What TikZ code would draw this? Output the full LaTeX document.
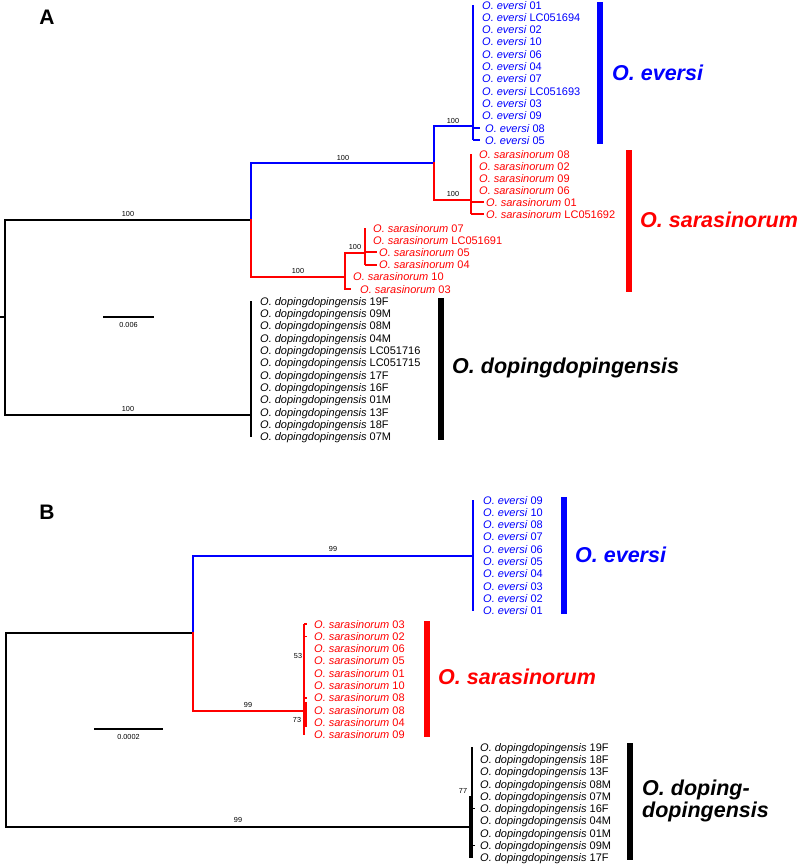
\documentclass[tikz,border=0pt]{standalone}
\usepackage{fontspec}
\setmainfont{Liberation Sans}
\newcommand*\taxon[2]{\textit{#1} #2}

\begin{document}
\begin{tikzpicture}[x=1pt,y=-1pt,
	br/.style={line width=2.5pt,line cap=rect},
	tl/.style={line width=2pt},
	tip/.style={anchor=base west,inner sep=0pt,font=\fontsize{11}{12}\selectfont},
	sup/.style={inner sep=0pt,font=\fontsize{7.3}{8}\selectfont},
	bar/.style={line width=6pt},
	clade/.style={anchor=west,inner sep=0pt,align=left,font=\fontsize{21.5}{22}\selectfont\bfseries\itshape},
	panel/.style={inner sep=0pt,font=\fontsize{21}{22}\selectfont\bfseries}]
	\useasboundingbox (0,0) rectangle (799,865);

	% panel A
	\node[panel] (labA) at (47,17) {A};
	\coordinate (stA) at (0,317);
	\coordinate (rA) at (5,317);
	\coordinate (inA) at (251,220);
	\coordinate (dpA) at (251,415);
	\coordinate (esA) at (434,163);
	\coordinate (evA) at (473,126);
	\coordinate (s1A) at (471,200);
	\coordinate (s2A) at (345,277);
	\coordinate (s3A) at (365,253);

	\foreach \n/\d [count=\i] in {01/0,LC051694/0,02/0,10/0,06/0,04/0,07/0,LC051693/0,03/0,09/0,08/3,05/3}{
		\coordinate (eAt\i) at (473,{5+12.3*(\i-1)});
		\node[tip,blue] (eA\i) at ({482+\d},{9+12.3*(\i-1)}) {\taxon{O. eversi}{\n}};
	}
	\foreach \n/\d [count=\i] in {08/0,02/0,09/0,06/0,01/7,LC051692/7}{
		\coordinate (sAt\i) at (471,{154+12*(\i-1)});
		\node[tip,red] (sA\i) at ({479+\d},{158+12*(\i-1)}) {\taxon{O. sarasinorum}{\n}};
	}
	\foreach \n/\cx/\lx [count=\i] in {07/365/373,LC051691/365/373,05/365/379,04/365/379,10/345/353,03/345/360}{
		\coordinate (tAt\i) at (\cx,{228+12.2*(\i-1)});
		\node[tip,red] (tA\i) at (\lx,{232+12.2*(\i-1)}) {\taxon{O. sarasinorum}{\n}};
	}
	\foreach \n [count=\i] in {19F,09M,08M,04M,LC051716,LC051715,17F,16F,01M,13F,18F,07M}{
		\coordinate (dAt\i) at (251,{301+12.36*(\i-1)});
		\node[tip] (dA\i) at (260,{305+12.36*(\i-1)}) {\taxon{O. dopingdopingensis}{\n}};
	}

	\draw[br] (stA) -- (rA);
	\draw[br] (inA) -| (rA) |- (dpA);
	\draw[br,blue] (inA) |- (esA);
	\draw[br,red] (inA) |- (s2A);
	\draw[br,blue] (esA) |- (evA);
	\draw[br,red] (esA) |- (s1A);
	\draw[br,red] (s3A) -| (tAt6) -- ++(5,0);
	\draw[tl,blue] (eAt1) -- (eAt12);
	\draw[tl,blue] (eAt11) -- ++(7,0);
	\draw[tl,blue] (eAt12) -- ++(7,0);
	\draw[tl,red] (sAt1) -- (sAt6);
	\draw[tl,red] (sAt5) -- ++(13,0);
	\draw[tl,red] (sAt6) -- ++(13,0);
	\draw[tl,red] (tAt1) -- (tAt4);
	\draw[tl,red] (tAt3) -- ++(12,0);
	\draw[tl,red] (tAt4) -- ++(12,0);
	\draw[tl] (dAt1) -- (dAt12);

	\node[sup] (bA1) at (128,214) {100};
	\node[sup] (bA2) at (343,158) {100};
	\node[sup] (bA3) at (453,121) {100};
	\node[sup] (bA4) at (453,194) {100};
	\node[sup] (bA5) at (298,271) {100};
	\node[sup] (bA6) at (355,247) {100};
	\node[sup] (bA7) at (128,409) {100};

	\coordinate (scA1) at (103,317);
	\coordinate (scA2) at (154,317);
	\draw[line width=2.2pt] (scA1) -- node[sup,below=4pt] (scAl) {0.006} (scA2);

	\draw[bar,blue] (600,2) -- (600,144);
	\draw[bar,red] (629,150) -- (629,292);
	\draw[bar] (441,298) -- (441,440);
	\node[clade,blue] (cevA) at (612,73) {O. eversi};
	\node[clade,red] (csaA) at (640,220) {O. sarasinorum};
	\node[clade] (cdpA) at (452,368) {O. dopingdopingensis};

	% panel B
	\node[panel] (labB) at (47,512) {B};
	\coordinate (rB) at (6,730);
	\coordinate (inB) at (193,633);
	\coordinate (evB) at (473,556);
	\coordinate (saB) at (304,711);
	\coordinate (dpB) at (470,827);

	\foreach \n [count=\i] in {09,10,08,07,06,05,04,03,02,01}{
		\coordinate (eBt\i) at (473,{500+12.33*(\i-1)});
		\node[tip,blue] (eB\i) at (483,{504+12.33*(\i-1)}) {\taxon{O. eversi}{\n}};
	}
	\foreach \n [count=\i] in {03,02,06,05,01,10,08,08,04,09}{
		\coordinate (sBt\i) at (304,{624+12.33*(\i-1)});
		\node[tip,red] (sB\i) at (314,{628+12.33*(\i-1)}) {\taxon{O. sarasinorum}{\n}};
	}
	\foreach \n [count=\i] in {19F,18F,13F,08M,07M,16F,04M,01M,09M,17F}{
		\coordinate (dBt\i) at (472,{747+12.33*(\i-1)});
		\node[tip] (dB\i) at (480,{751+12.33*(\i-1)}) {\taxon{O. dopingdopingensis}{\n}};
	}

	\draw[br] (inB) -| (rB) |- (dpB);
	\draw[br,blue] (inB) |- (evB);
	\draw[br,red] (inB) |- (saB);
	\draw[tl,blue] (eBt1) -- (eBt10);
	\draw[tl,red] (sBt1) -- (sBt10);
	\foreach \i in {1,2,7}{
		\draw[line width=1.5pt,red] (sBt\i) -- ++(3,0);
	}
	\coordinate (scB1) at (305.5,702);
	\coordinate (scB2) at (305.5,727);
	\draw[line width=2.6pt,red] (scB1) -- (scB2);
	\draw[tl] (dBt1) -- (dBt10);
	\draw[line width=2.6pt] (dpB |- dBt5) -- (dpB |- dBt10);
	\foreach \i in {6,9}{
		\draw[line width=1.5pt] (dBt\i) -- ++(3,0);
	}

	\node[sup] (bB1) at (333,549) {99};
	\node[sup] (bB2) at (248,705) {99};
	\node[sup] (bB3) at (238,820) {99};
	\node[sup] (bB4) at (298,656) {53};
	\node[sup] (bB5) at (297,720) {73};
	\node[sup] (bB6) at (463,791) {77};

	\coordinate (scB3) at (94,729);
	\coordinate (scB4) at (163,729);
	\draw[line width=1.8pt] (scB3) -- node[sup,below=4pt] (scBl) {0.0002} (scB4);

	\draw[bar,blue] (564,497) -- (564,614);
	\draw[bar,red] (427,621) -- (427,737);
	\draw[bar] (630,743) -- (630,860);
	\node[clade,blue] (cevB) at (575,555) {O. eversi};
	\node[clade,red] (csaB) at (438,677) {O. sarasinorum};
	\node[clade] (cdpB) at (642,801) {O. doping-\\dopingensis};
\end{tikzpicture}
\end{document}
